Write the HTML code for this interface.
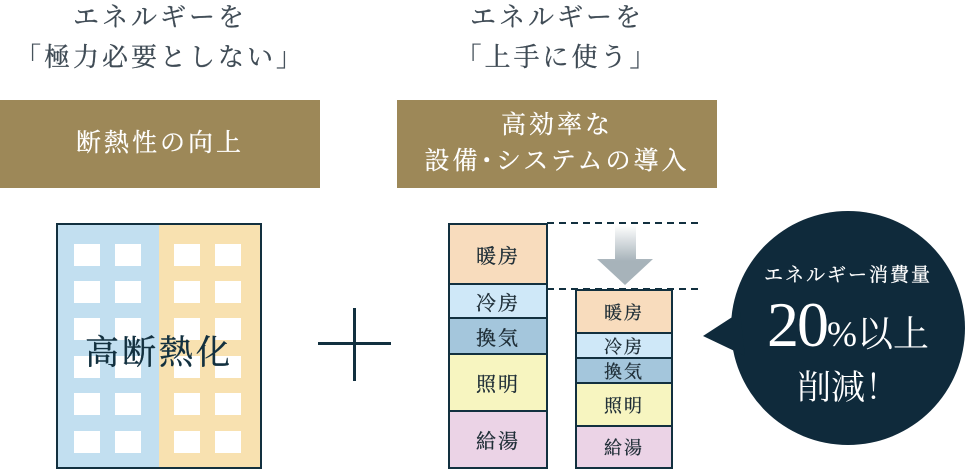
<!DOCTYPE html>
<html><head><meta charset="utf-8"><style>
body{margin:0;width:967px;height:470px;background:#fff;position:relative;overflow:hidden;font-family:"Liberation Serif","Noto Serif CJK SC",serif}
.a{position:absolute}
.t{color:#3f4b55;font-size:26px;letter-spacing:3px;text-align:center;line-height:40px;-webkit-text-stroke:0.3px #3f4b55}
.hb{background:#9d8858;color:#fff;font-size:25px;letter-spacing:3px;text-align:center;display:flex;align-items:center;justify-content:center;line-height:36px;-webkit-text-stroke:0.3px #fff}
.w{position:absolute;width:26px;height:22px;background:#fff}
.s{position:absolute;box-sizing:border-box;border:2px solid #12303f;display:flex;align-items:center;justify-content:center;color:#1e2d36;letter-spacing:2px;-webkit-text-stroke:0.3px #1e2d36}
</style></head><body>
<div class="a t" style="left:0;top:-2px;width:320px">エネルギーを<br>「極力必要としない」</div>
<div class="a t" style="left:397px;top:-2px;width:320px">エネルギーを<br>「上手に使う」</div>
<div class="a hb" style="left:0;top:100px;width:320px;height:88px">断熱性の向上</div>
<div class="a hb" style="left:397px;top:100px;width:320px;height:88px">高効率な<br>設備･システムの導入</div>
<div class="a" style="left:56px;top:223px;width:206px;height:246px;box-sizing:border-box;border:2px solid #12303f;background:linear-gradient(90deg,#c2dff0 0 50%,#f8e1b0 50% 100%)"></div>
<div class="a" style="left:0;top:0">
<script>
var xs=[74,115,174,215],ys=[244,281,318,356,393,431],h='';
xs.forEach(function(x){ys.forEach(function(y){h+='<div class="w" style="left:'+x+'px;top:'+y+'px"></div>'})});
document.write(h);
</script>
</div>
<div class="a" style="left:56px;top:325px;width:206px;text-align:center;font-size:34px;color:#12303f;letter-spacing:3px;-webkit-text-stroke:0.4px #12303f">高断熱化</div>
<div class="a" style="left:318px;top:342px;width:73px;height:3px;background:#12303f"></div>
<div class="a" style="left:353px;top:308px;width:3px;height:73px;background:#12303f"></div>
<svg class="a" style="left:0;top:0" width="967" height="470">
<line x1="547" y1="223" x2="700" y2="223" stroke="#12303f" stroke-width="2" stroke-dasharray="7,5"/>
<line x1="547" y1="289" x2="700" y2="289" stroke="#12303f" stroke-width="2" stroke-dasharray="7,5"/>
<defs><linearGradient id="g" x1="0" y1="0" x2="0" y2="1"><stop offset="0" stop-color="#fff"/><stop offset="0.6" stop-color="#a7b3ba"/></linearGradient></defs>
<path d="M615 225 H636 V259 H653 L625 285 L597 259 H615 Z" fill="url(#g)"/>
<circle cx="848" cy="328" r="117" fill="#0f2a3b"/>
<path d="M703 336 L740 312 L745 356 Z" fill="#0f2a3b"/>
</svg>
<div class="s" style="left:448px;top:223px;width:100px;height:62px;background:#f8dcbd;font-size:20px">暖房</div>
<div class="s" style="left:448px;top:283px;width:100px;height:36px;background:#cfe8f8;font-size:20px">冷房</div>
<div class="s" style="left:448px;top:317px;width:100px;height:38px;background:#a4c6dc;font-size:20px">換気</div>
<div class="s" style="left:448px;top:353px;width:100px;height:59px;background:#f7f5c0;font-size:20px">照明</div>
<div class="s" style="left:448px;top:410px;width:100px;height:59px;background:#ebd3e6;font-size:20px">給湯</div>
<div class="s" style="left:575px;top:289px;width:98px;height:45px;background:#f8dcbd;font-size:18px">暖房</div>
<div class="s" style="left:575px;top:332px;width:98px;height:27px;background:#cfe8f8;font-size:18px">冷房</div>
<div class="s" style="left:575px;top:357px;width:98px;height:27px;background:#a4c6dc;font-size:18px">換気</div>
<div class="s" style="left:575px;top:382px;width:98px;height:45px;background:#f7f5c0;font-size:18px">照明</div>
<div class="s" style="left:575px;top:425px;width:98px;height:44px;background:#ebd3e6;font-size:18px">給湯</div>
<div class="a" style="left:731px;top:260px;width:234px;text-align:center;color:#fff;font-size:19px;letter-spacing:2px;-webkit-text-stroke:0.3px #fff">エネルギー消費量</div>
<div class="a" style="left:731px;top:288px;width:234px;text-align:center;color:#fff;white-space:nowrap"><span style="font-size:64px;letter-spacing:-2px">20</span><span style="font-size:36px">%以上</span></div>
<div class="a" style="left:731px;top:360px;width:234px;text-align:center;color:#fff;font-size:34px">削減！</div>
</body></html>
